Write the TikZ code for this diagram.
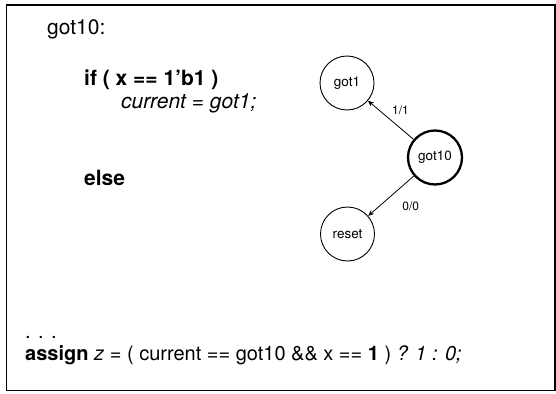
\documentclass[tikz,border=0pt]{standalone}
\usepackage{fontspec}
\setmainfont{TeX Gyre Heros}
\usetikzlibrary{arrows.meta}
\begin{document}
\begin{tikzpicture}[x=1pt,y=-1pt,
  code/.style={anchor=base west, inner sep=0pt, font=\fontsize{21}{25}\selectfont},
  lastcode/.style={code, font=\fontsize{20}{24}\selectfont},
  state/.style={circle, draw, line width=0.9pt, minimum size=54pt, inner sep=0pt, font=\fontsize{13.5}{15}\selectfont},
  cur/.style={state, line width=2.3pt},
  trans/.style={-{Stealth[length=6pt,width=5pt]}, line width=0.8pt},
  elabel/.style={font=\fontsize{12}{14}\selectfont, inner sep=1pt}]
\useasboundingbox (0,0) rectangle (556,393);
\draw[line width=1.6pt] (6.5,5) -- (555,5) -- (555,390.5) -- (6.5,390.5) -- cycle;
\node[code] (lbl) at (47,35) {got10:};
\node[code] (if) at (84,86) {\textbf{if ( x == 1'b1 )}};
\node[code] (asg) at (121,108) {\textit{current = got1;}};
\node[code] (else) at (84,185) {\textbf{else}};
\node[lastcode] (dots) at (25,338) {. . .};
\node[lastcode] (last) at (25,360) {\textbf{assign} \textit{z} = ( current == got10 \&\& x == \textbf{1} ) \textit{? 1 : 0;}};
\node[state] (g1) at (347,83) {got1};
\node[cur] (g10) at (435,157.5) {got10};
\node[state] (rs) at (347.5,234) {reset};
\draw[trans] (g10) -- node[elabel, anchor=south west, pos=0.5, yshift=4pt] {1/1} (g1);
\draw[trans] (g10) -- node[elabel, anchor=west, pos=0.5, xshift=10pt, yshift=-10pt] {0/0} (rs);
\end{tikzpicture}
\end{document}
